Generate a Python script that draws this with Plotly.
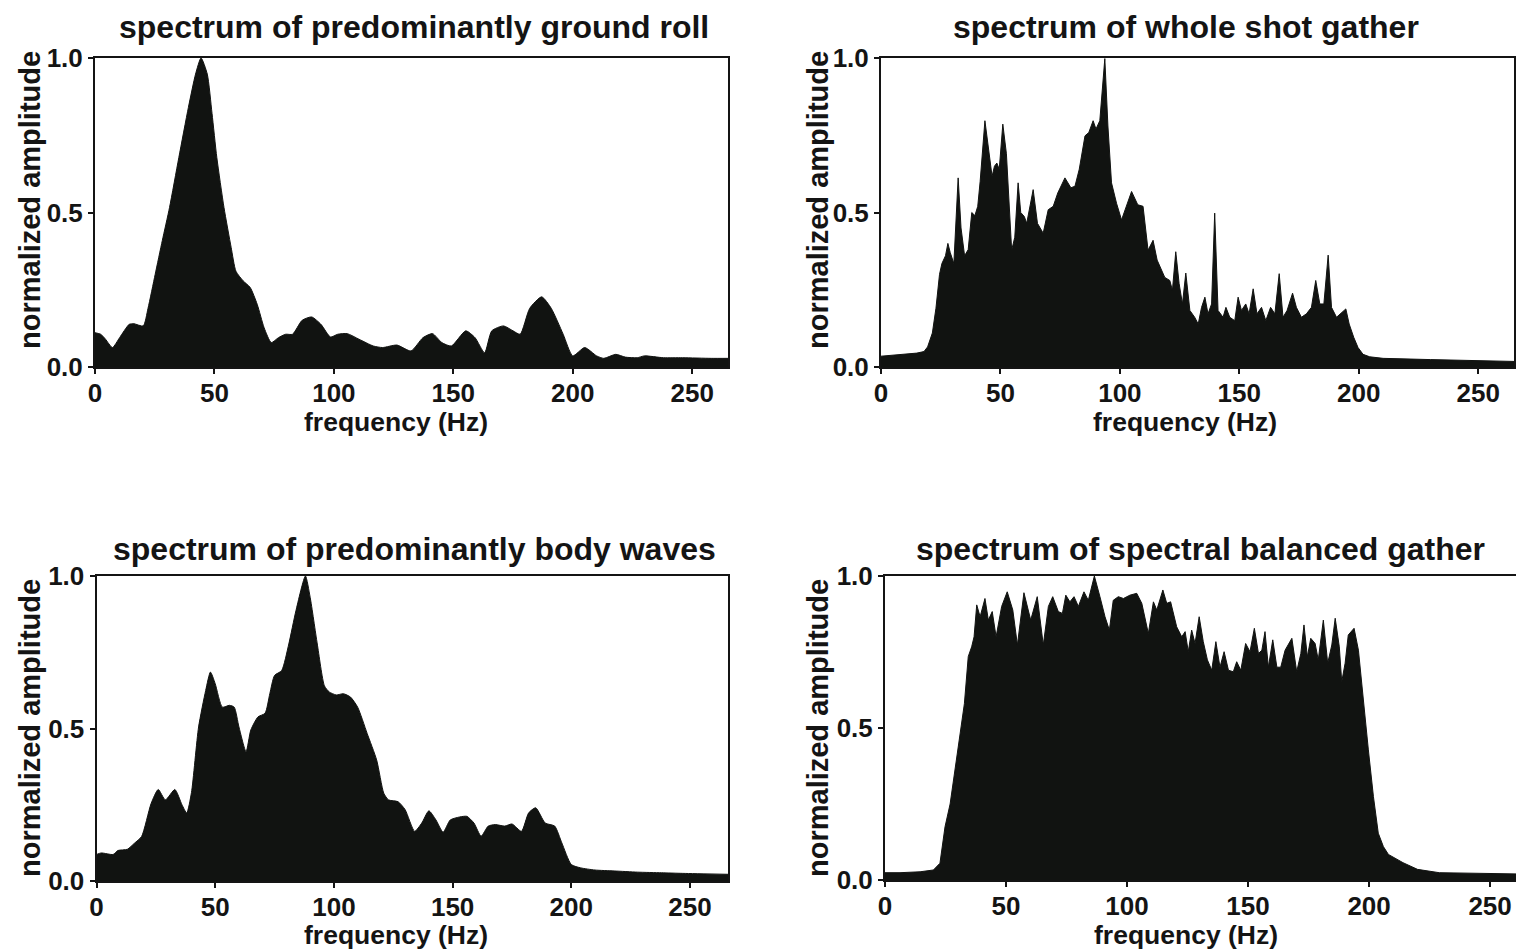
import plotly.graph_objects as go

# ---------------- data ----------------
x_ticks = [0, 50, 100, 150, 200, 250]
y_ticks = [0.0, 0.5, 1.0]
y_tick_text = ["0.0", "0.5", "1.0"]

titles = ["spectrum of predominantly ground roll",
          "spectrum of whole shot gather",
          "spectrum of predominantly body waves",
          "spectrum of spectral balanced gather"]

# ground roll
gr_freq = [0, 2.4, 4.4, 7.3, 10.3, 14.3, 16.3, 20.2, 22.2, 25.2, 28.2, 31.2, 35.1, 39.1, 42.1, 44.4,
           47, 49, 51, 54, 57, 59, 62, 65, 67.9, 70.8, 73.8, 76.8, 79.8, 82.7, 86.7, 90.7, 94.6,
           98.6, 101.6, 105.6, 110.5, 116.5, 120.4, 126.4, 132.3, 137.3, 141.3, 145.2, 149.2,
           155.2, 159.1, 163.1, 166.1, 171, 175, 178, 182, 187, 191, 196, 200, 205, 210, 213,
           218, 222, 227, 230, 238, 246, 258, 265]
gr_amp = [0.111, 0.106, 0.09, 0.063, 0.095, 0.138, 0.14, 0.133, 0.19, 0.30, 0.41, 0.516, 0.678, 0.84,
          0.948, 1.0, 0.948, 0.82, 0.678, 0.516, 0.387, 0.31, 0.279, 0.257, 0.203, 0.127, 0.079,
          0.095, 0.106, 0.106, 0.151, 0.162, 0.138, 0.097, 0.106, 0.108, 0.09, 0.068, 0.063, 0.071,
          0.052, 0.095, 0.108, 0.079, 0.068, 0.117, 0.095, 0.046, 0.117, 0.133, 0.117, 0.106, 0.19,
          0.227, 0.19, 0.106, 0.036, 0.063, 0.036, 0.028, 0.041, 0.032, 0.03, 0.036, 0.03, 0.03,
          0.028, 0.028]

# whole shot gather
ws_freq = [0, 5, 10, 15, 18, 19.5, 21.5, 23, 24.5, 25.5, 27, 28, 29, 30.5, 32.3, 33.5, 35, 36.5,
           38, 39.3, 40.5, 41.5, 43.5, 45, 46.5, 47.5, 48.5, 49.5, 51, 52.5, 54.7, 56, 57.4, 58.5,
           60, 61, 63.7, 65.5, 67.9, 70, 72.1, 74, 77, 79.5, 81.2, 83, 85.4, 87, 88.8, 90, 91.6,
           93.7, 95, 96.5, 98.6, 100.7, 102.8, 104.9, 107.5, 109.7, 111.8, 113.9, 115.6, 118.8,
           120.9, 122, 123.4, 124.8, 126.2, 127.6, 129.3, 131.4, 132.8, 134.2, 135.6, 136.9, 138.4,
           139.7, 141.1, 143.2, 144.4, 146, 148.1, 149.5, 150.9, 152.7, 154.1, 155.8, 157.4, 159.3,
           161.1, 163.1, 164.9, 166.7, 168.3, 170, 172.3, 173.9, 176, 178.1, 180.2, 182, 183.7,
           185.4, 187.2, 188.6, 190.7, 192.3, 194.6, 196, 197.9, 199.7, 201.8, 204.6, 210.2, 230,
           250, 265]
ws_amp = [0.035, 0.038, 0.040, 0.045, 0.050, 0.065, 0.11, 0.19, 0.30, 0.335, 0.36, 0.40, 0.37, 0.335,
          0.612, 0.45, 0.36, 0.38, 0.50, 0.49, 0.52, 0.60, 0.797, 0.70, 0.617, 0.65, 0.66, 0.64,
          0.786, 0.69, 0.378, 0.42, 0.596, 0.50, 0.487, 0.465, 0.574, 0.465, 0.433, 0.509, 0.52,
          0.563, 0.612, 0.58, 0.585, 0.64, 0.748, 0.759, 0.797, 0.77, 0.797, 0.998, 0.78, 0.596,
          0.53, 0.476, 0.52, 0.568, 0.525, 0.52, 0.378, 0.41, 0.346, 0.29, 0.28, 0.248, 0.373, 0.27,
          0.204, 0.304, 0.183, 0.16, 0.139, 0.193, 0.226, 0.172, 0.204, 0.498, 0.183, 0.161, 0.193,
          0.161, 0.15, 0.226, 0.183, 0.204, 0.172, 0.253, 0.172, 0.193, 0.15, 0.193, 0.172, 0.302,
          0.161, 0.183, 0.239, 0.193, 0.161, 0.172, 0.193, 0.28, 0.204, 0.204, 0.362, 0.193, 0.161,
          0.172, 0.188, 0.139, 0.096, 0.063, 0.041, 0.033, 0.028, 0.024, 0.020, 0.018]

# body waves
bw_freq = [0, 2, 7, 9, 13, 16, 19, 23, 26, 29, 33, 36, 38, 40, 43, 46, 48, 50, 53, 56, 58, 60, 63,
           65, 68, 71, 73, 75, 78, 81, 84, 88, 90, 93, 96, 98, 101, 104, 107, 110, 114, 118, 121,
           123, 127, 130, 134, 137, 140, 143, 146, 149, 153, 156, 159, 162, 165, 168, 172, 175,
           179, 182, 185, 189, 193, 196, 200, 204, 210, 218, 228, 238, 247, 266]
bw_amp = [0.087, 0.092, 0.087, 0.10, 0.104, 0.124, 0.146, 0.254, 0.30, 0.266, 0.30, 0.25, 0.223,
          0.29, 0.505, 0.625, 0.685, 0.647, 0.57, 0.576, 0.57, 0.505, 0.424, 0.495, 0.538, 0.55,
          0.614, 0.674, 0.69, 0.777, 0.886, 1.0, 0.93, 0.777, 0.64, 0.62, 0.61, 0.614, 0.603, 0.57,
          0.484, 0.397, 0.288, 0.266, 0.26, 0.234, 0.163, 0.19, 0.23, 0.20, 0.16, 0.20, 0.21, 0.212,
          0.19, 0.147, 0.18, 0.185, 0.18, 0.187, 0.163, 0.223, 0.24, 0.19, 0.18, 0.125, 0.054,
          0.043, 0.036, 0.033, 0.029, 0.027, 0.025, 0.022]

# spectral balanced gather
sb_freq = [0, 6.2, 14.5, 20, 22.7, 24.8, 26.9, 28.9, 31, 32.8, 34.4, 35.8, 36.8, 37.9, 39.3, 41.3,
           42.7, 44.3, 45.9, 48.2, 50.5, 52.8, 54.7, 57.4, 60.2, 62.9, 65.4, 67.5, 69.3, 71.6, 73.3,
           74.7, 76.4, 78.1, 79.9, 82.2, 84, 86.5, 88.8, 90.9, 92.7, 94.3, 96.4, 98.5, 101.2, 104,
           106.1, 108.8, 110.9, 112.3, 114.8, 116.4, 118, 120.5, 122.6, 124, 125.3, 126.7, 128.1,
           129.8, 131.5, 133.2, 135, 136.7, 138.4, 140.1, 141.9, 143.9, 145.3, 147, 149, 150.8,
           152.6, 154.3, 155.7, 157, 158.4, 160.2, 161.9, 163.5, 165.3, 168.1, 170.1, 171.8, 173.1,
           174.5, 175.9, 177.7, 179, 181.1, 182.9, 184.6, 186, 187.7, 188.7, 190.1, 191.4, 193.8,
           195.6, 197.7, 199.7, 201.8, 203.8, 205.9, 208, 214, 220, 229, 249, 261]
sb_amp = [0.024, 0.024, 0.027, 0.033, 0.055, 0.175, 0.25, 0.36, 0.47, 0.58, 0.735, 0.767, 0.80,
          0.905, 0.866, 0.926, 0.855, 0.883, 0.80, 0.90, 0.948, 0.888, 0.773, 0.945, 0.855, 0.932,
          0.773, 0.90, 0.932, 0.883, 0.877, 0.937, 0.915, 0.932, 0.90, 0.948, 0.92, 1.0, 0.932,
          0.866, 0.822, 0.92, 0.932, 0.926, 0.937, 0.943, 0.91, 0.811, 0.915, 0.888, 0.954, 0.91,
          0.915, 0.833, 0.80, 0.817, 0.751, 0.822, 0.778, 0.866, 0.784, 0.724, 0.69, 0.784, 0.70,
          0.751, 0.69, 0.685, 0.718, 0.69, 0.778, 0.751, 0.828, 0.745, 0.756, 0.817, 0.70, 0.79,
          0.70, 0.70, 0.756, 0.795, 0.685, 0.745, 0.839, 0.734, 0.795, 0.778, 0.724, 0.855, 0.713,
          0.773, 0.861, 0.767, 0.652, 0.713, 0.806, 0.828, 0.756, 0.581, 0.428, 0.274, 0.154, 0.11,
          0.084, 0.057, 0.035, 0.024, 0.021, 0.020]

for a, b in [(gr_freq, gr_amp), (ws_freq, ws_amp), (bw_freq, bw_amp), (sb_freq, sb_amp)]:
    assert len(a) == len(b), (len(a), len(b))

# ---------------- figure ----------------
W, H = 1516, 951
FONT = "Liberation Sans"
INK = "#141414"
FILL = "#111311"


def px(xw):
    return xw / W


def py(yw):
    return 1 - yw / H


panels = [
    # (freq, amp, x-domain (px), y-domain (px top,bottom), x-range max, spline)
    (gr_freq, gr_amp, (95, 728), (58, 367), 265, True),
    (ws_freq, ws_amp, (881, 1514), (58, 367), 265, False),
    (bw_freq, bw_amp, (96.5, 728), (576, 881), 266, True),
    (sb_freq, sb_amp, (885, 1516), (576, 880), 260.7, False),
]

fig = go.Figure()
layout = {}
for i, (fx, fy, (x0, x1), (ytop, ybot), xmax, smooth) in enumerate(panels, start=1):
    sfx = "" if i == 1 else str(i)
    fig.add_trace(go.Scatter(
        x=fx, y=fy, mode="lines", fill="tozeroy",
        line=dict(color=FILL, width=1, shape="spline" if smooth else "linear", smoothing=0.6),
        fillcolor=FILL, xaxis="x" + sfx, yaxis="y" + sfx, showlegend=False, hoverinfo="skip"))
    layout["xaxis" + sfx] = dict(
        domain=[px(x0), min(px(x1), 1.0)], range=[0, xmax], anchor="y" + sfx, automargin=False,
        tickvals=x_ticks, ticks="outside", ticklen=5, tickwidth=2, tickcolor=INK,
        ticklabelstandoff=-3,
        showline=True, linecolor=INK, linewidth=1.5, mirror=True, showgrid=False, zeroline=False,
        tickfont=dict(family=FONT, size=26, color=INK, weight="bold"))
    layout["yaxis" + sfx] = dict(
        domain=[py(ybot), py(ytop)], range=[0, 1], anchor="x" + sfx, automargin=False,
        tickvals=y_ticks, ticktext=y_tick_text, ticks="outside", ticklen=5, tickwidth=2,
        tickcolor=INK, showline=True, linecolor=INK, linewidth=2, mirror=True, showgrid=False,
        zeroline=False, tickfont=dict(family=FONT, size=26, color=INK, weight="bold"))

annotations = []
title_pos = [(414, 27), (1186, 27), (414, 549), (1200, 549)]
xlab_pos = [(396, 422), (1185, 422), (396, 935), (1186, 935)]
ylab_pos = [(30, 200), (818, 200), (30, 728), (818, 728)]
for t, (tx, ty), (lx, ly), (vx, vy) in zip(titles, title_pos, xlab_pos, ylab_pos):
    annotations.append(dict(text=t, x=px(tx), y=py(ty), xref="paper", yref="paper",
                            xanchor="center", yanchor="middle", showarrow=False,
                            font=dict(family=FONT, size=32, color=INK, weight="bold")))
    annotations.append(dict(text="frequency (Hz)", x=px(lx), y=py(ly), xref="paper",
                            yref="paper", xanchor="center", yanchor="middle", showarrow=False,
                            font=dict(family=FONT, size=26.5, color=INK, weight="bold")))
    annotations.append(dict(text="normalized amplitude", x=px(vx), y=py(vy), xref="paper",
                            yref="paper", xanchor="center", yanchor="middle", showarrow=False,
                            textangle=-90,
                            font=dict(family=FONT, size=29, color=INK, weight="bold")))

fig.update_layout(template="none", width=W, height=H, margin=dict(l=0, r=0, t=0, b=0, pad=0),
                  paper_bgcolor="white", plot_bgcolor="white", showlegend=False,
                  annotations=annotations, **layout)

# remove the page's default body margin so the figure fills the window exactly
fig.write_html("out.html",
               config={"displayModeBar": False},
               post_script="document.body.style.margin='0';document.body.style.overflow='hidden';")
